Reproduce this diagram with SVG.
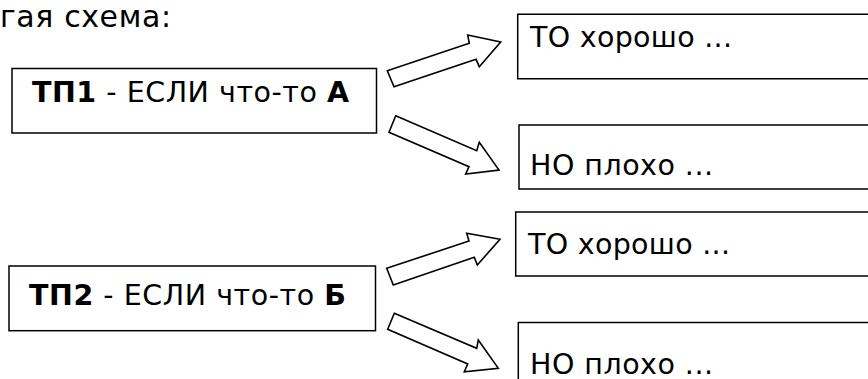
<svg xmlns="http://www.w3.org/2000/svg" width="868" height="379" viewBox="0 0 868 379">
<style>
.box{fill:#fff;stroke:#000;stroke-width:1.5}
.t{font-family:"DejaVu Sans",Verdana,sans-serif;font-size:28.5px;fill:#000}
.b{font-weight:bold}
.arr{fill:#fff;stroke:#000;stroke-width:1.6;stroke-linejoin:miter}
</style>
<rect width="868" height="379" fill="#fff"/>
<text class="t" x="0" y="26.5" style="font-size:30px" textLength="171">гая схема:</text>
<g id="tp1">
<rect class="box" x="12" y="68.5" width="364.5" height="64.5"/>
<text class="t" x="32" y="102" textLength="317"><tspan class="b">ТП1</tspan> - ЕСЛИ что-то <tspan class="b">А</tspan></text>
</g>
<g id="to1">
<path class="box" d="M870 14.3H517.7V78.7H870"/>
<text class="t" x="530" y="46.7" textLength="202">ТО хорошо ...</text>
</g>
<g id="no1">
<path class="box" d="M870 125H519V189H870"/>
<text class="t" x="530" y="175" textLength="183">НО плохо ...</text>
</g>
<g id="tp2">
<rect class="box" x="9" y="266" width="366.5" height="64.7"/>
<text class="t" x="29" y="305" textLength="317"><tspan class="b">ТП2</tspan> - ЕСЛИ что-то <tspan class="b">Б</tspan></text>
</g>
<g id="to2">
<path class="box" d="M870 212H515.7V276H870"/>
<text class="t" x="528" y="254" textLength="202">ТО хорошо ...</text>
</g>
<g id="no2">
<path class="box" d="M870 322.5H518.3V385"/>
<text class="t" x="530" y="373.5" textLength="183">НО плохо ...</text>
</g>
<g id="connectors">
<polygon class="arr" points="387.3,70.7 469.3,43.3 467.7,35 500.7,42 479.3,66.7 476,59.3 394,86.7"/>
<polygon class="arr" points="395.7,115.7 476.7,150.7 479.3,142.3 499,170 465.7,174 469,166.7 389,132.3"/>
<polygon class="arr" points="386.7,268.3 469,241 466.7,233.3 500,239.3 477.3,265 474.3,257.3 393.3,285"/>
<polygon class="arr" points="394.3,313.3 476.7,348.3 478.3,340 498.3,368.3 464.3,371.7 467.7,364 387.7,329.3"/>
</g>
</svg>
